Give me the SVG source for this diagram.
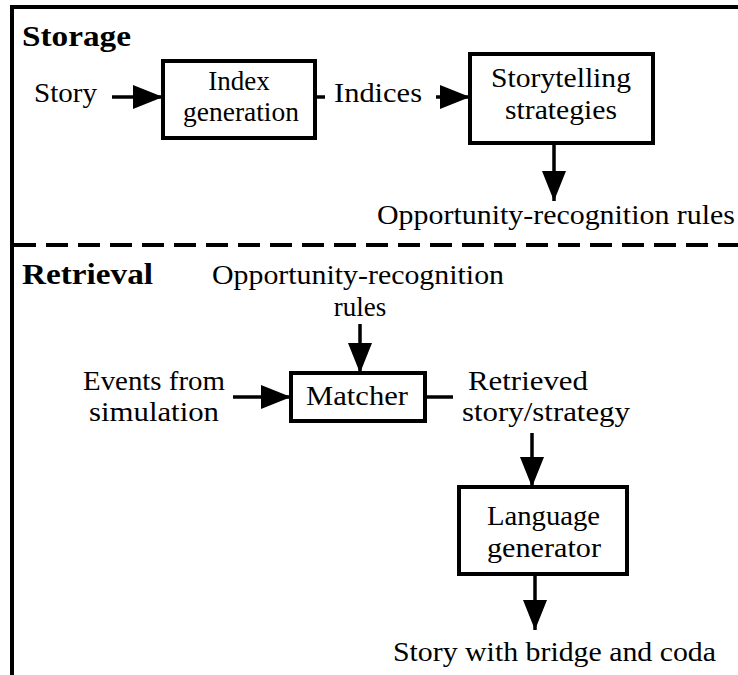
<svg xmlns="http://www.w3.org/2000/svg" width="738" height="675" viewBox="0 0 738 675">
<style>
text{font-family:"Liberation Serif","DejaVu Serif",serif;font-size:27px;fill:#000}
.h{font-weight:bold;font-size:30px}
.c{text-anchor:middle}
.box{fill:#fff;stroke:#000;stroke-width:4}
.ln{stroke:#000;stroke-width:3.5;fill:none}
</style>
<defs>
<marker id="ah" markerUnits="userSpaceOnUse" markerWidth="32" markerHeight="26" refX="30" refY="12" orient="auto">
<path d="M0,0 L30,12 L0,24 Z" fill="#000"/>
</marker>
</defs>
<rect width="738" height="675" fill="#fff"/>
<g id="frame">
<path d="M12,675 L12,7 L738,7" fill="none" stroke="#000" stroke-width="4"/>
<line x1="14" y1="245" x2="738" y2="245" stroke="#000" stroke-width="4" stroke-dasharray="22,10"/>
</g>
<g id="labels">
<text class="h" x="22" y="46" textLength="109" lengthAdjust="spacingAndGlyphs">Storage</text>
<text class="h" x="22" y="284" textLength="131" lengthAdjust="spacingAndGlyphs">Retrieval</text>
<text x="34" y="102" textLength="63" lengthAdjust="spacingAndGlyphs">Story</text>
<text x="334" y="102" textLength="88" lengthAdjust="spacingAndGlyphs">Indices</text>
<text x="377" y="224" textLength="358" lengthAdjust="spacingAndGlyphs">Opportunity-recognition rules</text>
<text x="212" y="284" textLength="292" lengthAdjust="spacingAndGlyphs">Opportunity-recognition</text>
<text class="c" x="360" y="316">rules</text>
<text x="83" y="390" textLength="142" lengthAdjust="spacingAndGlyphs">Events from</text>
<text x="89" y="421" textLength="130" lengthAdjust="spacingAndGlyphs">simulation</text>
<text x="468" y="390" textLength="120" lengthAdjust="spacingAndGlyphs">Retrieved</text>
<text x="462" y="421" textLength="168" lengthAdjust="spacingAndGlyphs">story/strategy</text>
<text x="393" y="661" textLength="323" lengthAdjust="spacingAndGlyphs">Story with bridge and coda</text>
</g>
<g id="index-generation">
<rect class="box" x="163" y="61" width="152" height="77"/>
<text class="c" x="239" y="90">Index</text>
<text class="c" x="241" y="121" textLength="116" lengthAdjust="spacingAndGlyphs">generation</text>
</g>
<g id="storytelling-strategies">
<rect class="box" x="470" y="54" width="183" height="89"/>
<text x="491" y="87" textLength="140" lengthAdjust="spacingAndGlyphs">Storytelling</text>
<text x="505" y="119" textLength="112" lengthAdjust="spacingAndGlyphs">strategies</text>
</g>
<g id="matcher">
<rect class="box" x="291" y="373" width="134" height="48"/>
<text x="306" y="405" textLength="102" lengthAdjust="spacingAndGlyphs">Matcher</text>
</g>
<g id="language-generator">
<rect class="box" x="459" y="487" width="168" height="87"/>
<text x="487" y="525" textLength="113" lengthAdjust="spacingAndGlyphs">Language</text>
<text x="487" y="557" textLength="114" lengthAdjust="spacingAndGlyphs">generator</text>
</g>
<g id="connectors">
<line class="ln" x1="112" y1="97" x2="163" y2="97" marker-end="url(#ah)"/>
<line class="ln" x1="315" y1="97" x2="325" y2="97"/>
<line class="ln" x1="436" y1="97" x2="470" y2="97" marker-end="url(#ah)"/>
<line class="ln" x1="554" y1="143" x2="554" y2="201" marker-end="url(#ah)"/>
<line class="ln" x1="360" y1="324" x2="360" y2="373" marker-end="url(#ah)"/>
<line class="ln" x1="233" y1="397" x2="291" y2="397" marker-end="url(#ah)"/>
<line class="ln" x1="425" y1="397" x2="453" y2="397"/>
<line class="ln" x1="532" y1="433" x2="532" y2="487" marker-end="url(#ah)"/>
<line class="ln" x1="535" y1="574" x2="535" y2="630" marker-end="url(#ah)"/>
</g>
</svg>
